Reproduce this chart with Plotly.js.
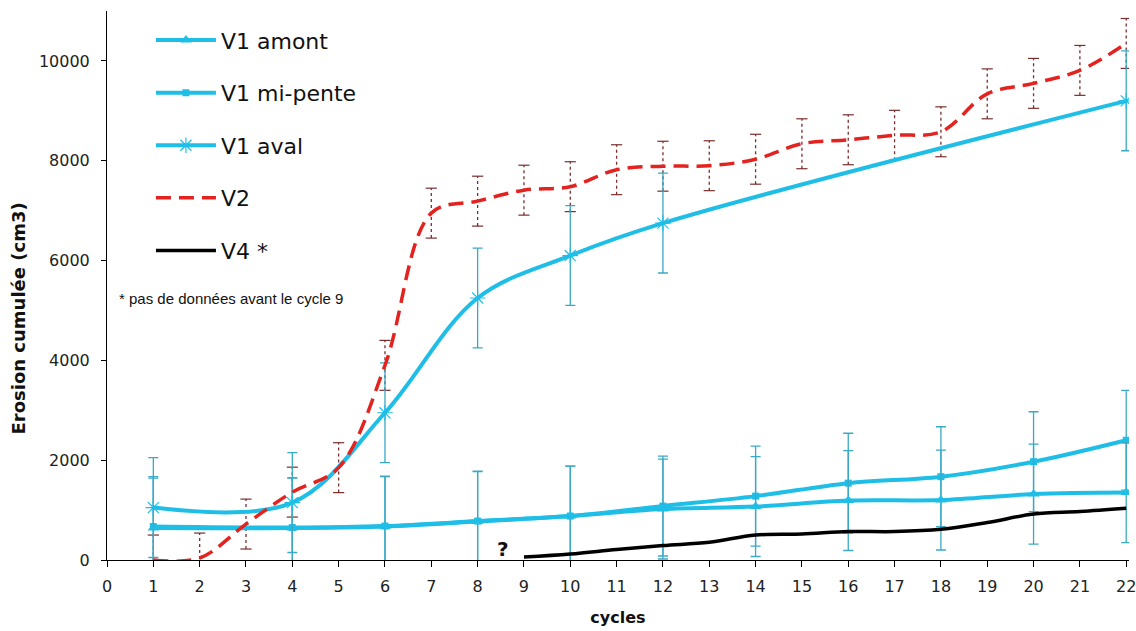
<!DOCTYPE html>
<html>
<head>
<meta charset="utf-8">
<script src="https://cdn.plot.ly/plotly-3.0.1.min.js"></script>
<style>html,body{margin:0;padding:0;background:#fff}#chart{width:1136px;height:631px}</style>
</head>
<body>
<div id="chart"></div>
<script>
// ---- data ----
var xTicks = [0,1,2,3,4,5,6,7,8,9,10,11,12,13,14,15,16,17,18,19,20,21,22];

var cyclesV1 = [1,4,6,8,10,12,14,16,18,20,22];
var amont    = [640,640,670,770,880,1020,1070,1190,1200,1320,1350];
var amontErr = [1000,1000,1000,1000,1000,1000,1000,1000,1000,1000,1000];
var miPente    = [670,650,680,780,880,1080,1280,1540,1670,1970,2400];
var miPenteErr = [1000,1000,1000,1000,1000,1000,1000,1000,1000,1000,1000];

var cyclesAval = [1,4,6,8,10,12,22];
var aval       = [1050,1150,2950,5250,6100,6750,9200];
var avalErr    = [1000,1000,1000,1000,1000,1000,1000];

var cyclesV2 = [1,2,3,4,5,6,7,8,9,10,11,12,13,14,15,16,17,18,19,20,21,22];
var v2       = [0,40,720,1360,1850,3900,6950,7190,7410,7480,7820,7890,7900,8030,8340,8420,8510,8580,9340,9550,9810,10350];
var v2Err    = [500,500,500,500,500,500,500,500,500,500,500,500,500,500,500,500,500,500,500,500,500,500];

var cyclesV4 = [9,10,11,12,13,14,15,16,17,18,19,20,21,22];
var v4       = [60,120,210,290,355,500,520,570,570,615,750,920,970,1035];

// ---- styles ----
var cyan = '#1FBEE7';
var cyanErr = '#3AA9C6';
var red = '#E3231F';
var redErr = '#7A2E2E';
var FONT = 'DejaVu Sans, Liberation Sans, Arial, sans-serif';

// V2 error bars drawn as dotted segments built from the data
var v2ex = [], v2ey = [];
for (var i = 0; i < cyclesV2.length; i++) {
  v2ex.push(cyclesV2[i], cyclesV2[i], null);
  v2ey.push(v2[i] - v2Err[i], v2[i] + v2Err[i], null);
}

var traces = [
  {
    x: v2ex, y: v2ey, mode: 'lines+markers', showlegend: false, hoverinfo: 'skip',
    line: {color: redErr, width: 1.3, dash: 'dot'},
    marker: {symbol: 'line-ew', size: 8, line: {color: redErr, width: 1.2}}
  },
  {
    name: 'V1 mi-pente', legendgroup: 'b', legendrank: 2,
    x: cyclesV1, y: miPente, mode: 'lines+markers',
    line: {color: cyan, width: 4, shape: 'spline'},
    marker: {symbol: 'square', size: 7, color: cyan},
    error_y: {type: 'data', array: miPenteErr, visible: true, color: cyanErr, thickness: 1.3, width: 5}
  },
  {
    name: 'V1 amont', legendgroup: 'a', legendrank: 1,
    x: cyclesV1, y: amont, mode: 'lines+markers',
    line: {color: cyan, width: 4, shape: 'spline'},
    marker: {symbol: 'triangle-up', size: 10, color: cyan},
    error_y: {type: 'data', array: amontErr, visible: true, color: cyanErr, thickness: 1.3, width: 5}
  },
  {
    name: 'V1 aval', legendgroup: 'c', legendrank: 3,
    x: cyclesAval, y: aval, mode: 'lines+markers',
    line: {color: cyan, width: 4, shape: 'spline'},
    marker: {symbol: 'asterisk-open', size: 13, color: cyan, line: {color: cyanErr, width: 1.2}},
    error_y: {type: 'data', array: avalErr, visible: true, color: cyanErr, thickness: 1.3, width: 5}
  },
  {
    name: 'V2', legendgroup: 'd', legendrank: 4,
    x: cyclesV2, y: v2, mode: 'lines',
    line: {color: red, width: 3.5, dash: '15px,8px', shape: 'spline'}
  },
  {
    name: 'V4 *', legendgroup: 'e', legendrank: 5,
    x: cyclesV4, y: v4, mode: 'lines',
    line: {color: '#000000', width: 3.5, shape: 'spline'}
  }
];

var layout = {
  width: 1136, height: 631,
  margin: {l: 107, r: 7, t: 11, b: 71},
  paper_bgcolor: '#ffffff', plot_bgcolor: '#ffffff',
  font: {family: FONT, color: '#222'},
  showlegend: true,
  legend: {
    x: 0.043, y: 0.985, xanchor: 'left', yanchor: 'top',
    font: {family: FONT, size: 22, color: '#111'},
    bgcolor: 'rgba(0,0,0,0)', itemwidth: 60, tracegroupgap: 21,
    traceorder: 'grouped'
  },
  xaxis: {
    range: [0, 22.06], tickvals: xTicks, ticktext: xTicks.map(String),
    showline: true, linecolor: '#000', linewidth: 1,
    ticks: 'outside', ticklen: 6, tickcolor: '#000', ticklabelstandoff: 6,
    ticklabeloverflow: 'allow',
    showgrid: false, zeroline: false,
    tickfont: {family: FONT, size: 16, color: '#222'},
    title: {text: '<b>cycles</b>', font: {family: FONT, size: 16, color: '#111'}, standoff: 16}
  },
  yaxis: {
    range: [0, 11000], dtick: 2000, tick0: 0, tickformat: 'd',
    showline: true, linecolor: '#000', linewidth: 1,
    ticks: 'outside', ticklen: 5, tickcolor: '#000', ticklabelstandoff: 8,
    showgrid: false, zeroline: false,
    tickfont: {family: FONT, size: 16, color: '#222'}
  },
  annotations: [
    {xref: 'paper', yref: 'paper', x: -0.087, y: 0.44, xanchor: 'center', yanchor: 'middle',
     textangle: -90, text: '<b>Erosion cumulée (cm3)</b>', showarrow: false,
     font: {family: FONT, size: 18, color: '#111'}},
    {xref: 'paper', yref: 'paper', x: 0.01, y: 0.477, xanchor: 'left', yanchor: 'middle',
     text: '* pas de données avant le cycle 9', showarrow: false,
     font: {family: 'Liberation Sans Narrow, Arial Narrow, sans-serif', size: 15, color: '#111'}},
    {xref: 'x', yref: 'y', x: 8.55, y: 0, yanchor: 'bottom', yshift: -3, text: '<b>?</b>', showarrow: false,
     font: {family: FONT, size: 20, color: '#111'}}
  ]
};

Plotly.newPlot('chart', traces, layout, {displayModeBar: false});
</script>
</body>
</html>
